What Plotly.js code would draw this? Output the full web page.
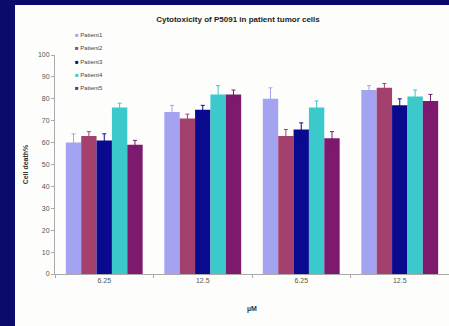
<!DOCTYPE html>
<html><head><meta charset="utf-8">
<script src="https://cdn.plot.ly/plotly-3.0.1.min.js"></script>
<style>
html,body{margin:0;padding:0;background:#0b0b6b;width:449px;height:326px;overflow:hidden}
#panel{position:absolute;left:15px;top:5px;width:434px;height:321px;background:#fdfdfb}
#chart{position:absolute;left:0;top:0;width:449px;height:326px}
</style></head>
<body><div id="panel"></div><div id="chart"></div>
<script>
const categories = ["6.25 ", "12.5 ", "6.25", "12.5"];
const tickLabels = ["6.25", "12.5", "6.25", "12.5"];
const seriesNames = ["Patient1", "Patient2", "Patient3", "Patient4", "Patient5"];
const patient1 = [60, 74, 80, 84];
const patient2 = [63, 71, 63, 85];
const patient3 = [61, 75, 66, 77];
const patient4 = [76, 82, 76, 81];
const patient5 = [59, 82, 62, 79];
const err1 = [4, 3, 5, 2];
const err2 = [2, 2, 3, 2];
const err3 = [3, 2, 3, 3];
const err4 = [2, 4, 3, 3];
const err5 = [2, 2, 3, 3];
const colors = ["#a3a3f2", "#a3406e", "#0a0a8f", "#3cc9cc", "#7d1a6e"];
const values = [patient1, patient2, patient3, patient4, patient5];
const errs = [err1, err2, err3, err4, err5];
const data = values.map((v, i) => ({
  type: "bar", name: seriesNames[i], x: categories, y: v,
  marker: {color: colors[i]},
  error_y: {type: "data", array: errs[i], visible: true, color: colors[i], thickness: 1, width: 2}
}));
const font = "Liberation Sans, Arial";
const legendAnnotations = seriesNames.map((n, i) => ({
  xref: "paper", yref: "paper", x: 0.045, y: 1.091 - i * 0.0605, xanchor: "left", yanchor: "middle",
  showarrow: false, align: "left",
  text: "<span style='color:" + colors[i] + "'>■</span> " + n,
  font: {family: font, size: 6, color: "#444"}
}));
const layout = {
  width: 449, height: 326,
  paper_bgcolor: "rgba(0,0,0,0)", plot_bgcolor: "rgba(0,0,0,0)",
  margin: {l: 55, r: 0, t: 55, b: 52},
  title: {text: "<b>Cytotoxicity of P5091 in patient tumor cells</b>", x: 0.53, xanchor: "center", y: 0.94, yanchor: "middle",
          font: {family: font, size: 8, color: "#222"}},
  barmode: "group", bargap: 0.22, bargroupgap: 0,
  showlegend: false,
  annotations: legendAnnotations,
  xaxis: {type: "category", tickvals: categories, ticktext: tickLabels, showgrid: false, showline: true,
          linecolor: "#aaa", linewidth: 1, ticks: "outside", tickson: "boundaries", ticklen: 3, tickcolor: "#aaa",
          tickfont: {family: font, size: 7, color: "#555"},
          title: {text: "<b>µM</b>", font: {family: font, size: 7, color: "#333"}, standoff: 22}},
  yaxis: {range: [0, 100], dtick: 10, showgrid: false, showline: true, linecolor: "#aaa", linewidth: 1,
          ticks: "outside", ticklen: 3, tickcolor: "#aaa", zeroline: false,
          tickfont: {family: font, size: 7, color: "#555"},
          title: {text: "<b>Cell death%</b>", font: {family: font, size: 7, color: "#333"}, standoff: 8}}
};
Plotly.newPlot("chart", data, layout, {displayModeBar: false, staticPlot: true});
</script></body></html>
